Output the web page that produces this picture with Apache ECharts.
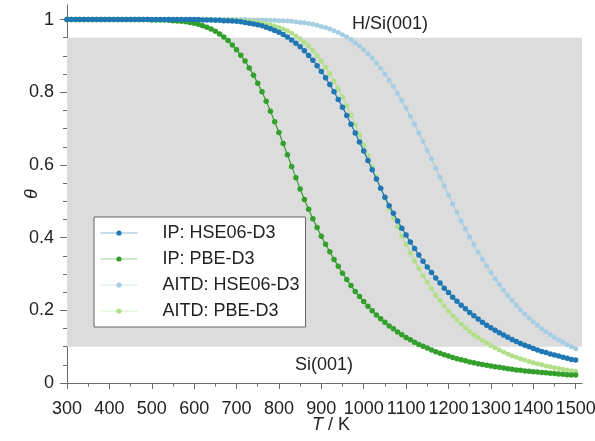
<!DOCTYPE html>
<html>
<head>
<meta charset="utf-8">
<script src="https://cdn.jsdelivr.net/npm/echarts@6/dist/echarts.min.js"></script>
<style>
  html, body { margin: 0; padding: 0; background: #ffffff; }
  #chart { width: 595px; height: 441px; }
</style>
</head>
<body>
<div id="chart"></div>
<script>
// Temperature grid (K)
const temps = [
  300, 310, 320, 330, 340, 350, 360, 370, 380, 390,
  400, 410, 420, 430, 440, 450, 460, 470, 480, 490,
  500, 510, 520, 530, 540, 550, 560, 570, 580, 590,
  600, 610, 620, 630, 640, 650, 660, 670, 680, 690,
  700, 710, 720, 730, 740, 750, 760, 770, 780, 790,
  800, 810, 820, 830, 840, 850, 860, 870, 880, 890,
  900, 910, 920, 930, 940, 950, 960, 970, 980, 990,
  1000, 1010, 1020, 1030, 1040, 1050, 1060, 1070, 1080, 1090,
  1100, 1110, 1120, 1130, 1140, 1150, 1160, 1170, 1180, 1190,
  1200, 1210, 1220, 1230, 1240, 1250, 1260, 1270, 1280, 1290,
  1300, 1310, 1320, 1330, 1340, 1350, 1360, 1370, 1380, 1390,
  1400, 1410, 1420, 1430, 1440, 1450, 1460, 1470, 1480, 1490,
  1500
];

// Hydrogen coverage theta for each temperature above
const ipHse = [
  1, 1, 1, 1, 1, 1, 1, 1, 1, 1,
  1, 1, 1, 1, 1, 1, 1, 1, 1, 1,
  1, 1, 1, 1, 1, 1, 1, 1, 1, 1,
  1, 1, 0.999, 0.999, 0.999, 0.998, 0.998, 0.997, 0.997, 0.996,
  0.995, 0.994, 0.992, 0.990, 0.988, 0.986, 0.983, 0.979, 0.975, 0.970,
  0.965, 0.959, 0.952, 0.944, 0.935, 0.925, 0.914, 0.901, 0.888, 0.873,
  0.857, 0.840, 0.821, 0.801, 0.780, 0.759, 0.736, 0.712, 0.688, 0.663,
  0.638, 0.612, 0.587, 0.561, 0.536, 0.511, 0.488, 0.467, 0.446, 0.426,
  0.407, 0.388, 0.370, 0.352, 0.335, 0.319, 0.304, 0.289, 0.275, 0.261,
  0.249, 0.236, 0.225, 0.214, 0.204, 0.194, 0.185, 0.176, 0.167, 0.159,
  0.152, 0.145, 0.138, 0.132, 0.126, 0.120, 0.114, 0.109, 0.104, 0.100,
  0.095, 0.091, 0.087, 0.084, 0.080, 0.077, 0.074, 0.071, 0.068, 0.065,
  0.063
];

const ipPbe = [
  1, 1, 1, 1, 1, 1, 1, 1, 1, 1,
  1, 1, 1, 1, 1, 1, 1, 1, 1, 1,
  0.999, 0.999, 0.999, 0.999, 0.998, 0.997, 0.996, 0.995, 0.994, 0.992,
  0.990, 0.987, 0.983, 0.979, 0.974, 0.968, 0.960, 0.952, 0.942, 0.930,
  0.917, 0.902, 0.886, 0.867, 0.847, 0.825, 0.801, 0.775, 0.748, 0.719,
  0.689, 0.659, 0.628, 0.596, 0.565, 0.534, 0.505, 0.478, 0.452, 0.428,
  0.404, 0.382, 0.361, 0.340, 0.321, 0.302, 0.285, 0.268, 0.252, 0.238,
  0.224, 0.211, 0.199, 0.187, 0.177, 0.167, 0.157, 0.149, 0.140, 0.133,
  0.125, 0.119, 0.112, 0.106, 0.101, 0.096, 0.091, 0.086, 0.082, 0.078,
  0.074, 0.070, 0.067, 0.064, 0.061, 0.058, 0.056, 0.053, 0.051, 0.049,
  0.047, 0.045, 0.043, 0.041, 0.039, 0.038, 0.036, 0.035, 0.033, 0.032,
  0.031, 0.030, 0.029, 0.028, 0.027, 0.026, 0.025, 0.024, 0.023, 0.022,
  0.022
];

const aitdHse = [
  1, 1, 1, 1, 1, 1, 1, 1, 1, 1,
  1, 1, 1, 1, 1, 1, 1, 1, 1, 1,
  1, 1, 1, 1, 1, 1, 1, 1, 1, 1,
  1, 1, 1, 1, 1, 1, 1, 1, 1, 1,
  1, 1, 1, 0.999, 0.999, 0.999, 0.999, 0.999, 0.998, 0.998,
  0.997, 0.997, 0.996, 0.995, 0.994, 0.992, 0.991, 0.989, 0.987, 0.984,
  0.981, 0.978, 0.974, 0.969, 0.964, 0.958, 0.952, 0.945, 0.936, 0.927,
  0.917, 0.906, 0.894, 0.880, 0.866, 0.850, 0.833, 0.816, 0.797, 0.777,
  0.756, 0.734, 0.712, 0.688, 0.665, 0.640, 0.616, 0.591, 0.566, 0.542,
  0.517, 0.493, 0.470, 0.446, 0.424, 0.402, 0.381, 0.360, 0.341, 0.322,
  0.304, 0.287, 0.271, 0.255, 0.241, 0.227, 0.214, 0.201, 0.190, 0.179,
  0.168, 0.159, 0.149, 0.141, 0.133, 0.125, 0.118, 0.112, 0.105, 0.100,
  0.094
];

const aitdPbe = [
  1, 1, 1, 1, 1, 1, 1, 1, 1, 1,
  1, 1, 1, 1, 1, 1, 1, 1, 1, 1,
  1, 1, 1, 1, 1, 1, 1, 1, 1, 1,
  1, 1, 1, 1, 1, 0.999, 0.999, 0.999, 0.999, 0.998,
  0.998, 0.997, 0.996, 0.995, 0.994, 0.992, 0.991, 0.988, 0.986, 0.982,
  0.978, 0.974, 0.969, 0.962, 0.955, 0.947, 0.937, 0.927, 0.915, 0.901,
  0.886, 0.869, 0.851, 0.831, 0.810, 0.787, 0.763, 0.737, 0.711, 0.683,
  0.655, 0.626, 0.596, 0.567, 0.537, 0.509, 0.481, 0.455, 0.429, 0.404,
  0.381, 0.358, 0.336, 0.315, 0.295, 0.277, 0.259, 0.242, 0.227, 0.212,
  0.198, 0.185, 0.174, 0.162, 0.152, 0.142, 0.133, 0.125, 0.117, 0.110,
  0.103, 0.097, 0.091, 0.085, 0.080, 0.075, 0.071, 0.067, 0.063, 0.059,
  0.056, 0.053, 0.050, 0.047, 0.045, 0.042, 0.040, 0.038, 0.036, 0.034,
  0.032
];

// Axis ticks
const xMajorTicks = [300, 400, 500, 600, 700, 800, 900, 1000, 1100, 1200, 1300, 1400, 1500];
const xMinorTicks = [350, 450, 550, 650, 750, 850, 950, 1050, 1150, 1250, 1350, 1450];
const yMajorTicks = [0, 0.2, 0.4, 0.6, 0.8, 1];
const yMinorTicks = [0.05, 0.1, 0.15, 0.25, 0.3, 0.35, 0.45, 0.5, 0.55, 0.65, 0.7, 0.75, 0.85, 0.9, 0.95];

// Shaded coverage band between the two surface regimes
const bandTheta = [0.1, 0.95];
const xRange = [300, 1515];
const yRange = [0, 1.04];

const FONT = '"Liberation Sans", Arial, Helvetica, sans-serif';
const AXIS_COLOR = '#6b6b6b';
const TEXT_COLOR = '#222222';

function pairs(ys) {
  return temps.map((t, i) => [t, ys[i]]);
}

function plain(v) {
  return String(v);
}

function curve(name, ys, color, size, z) {
  return {
    name: name,
    type: 'line',
    data: pairs(ys),
    xAxisIndex: 0,
    yAxisIndex: 0,
    symbol: 'circle',
    symbolSize: size,
    showSymbol: true,
    showAllSymbol: true,
    sampling: 'none',
    z: z,
    itemStyle: { color: color, borderWidth: 0 },
    lineStyle: { color: color, width: 1.2 },
    emphasis: { disabled: true },
    animation: false
  };
}

const lightBlue = curve('AITD: HSE06-D3', aitdHse, '#a6cee3', 5, 3);
lightBlue.markArea = {
  silent: true,
  itemStyle: { color: '#dcdcdc' },
  data: [[
    { xAxis: xRange[0], yAxis: bandTheta[0] },
    { xAxis: xRange[1], yAxis: bandTheta[1] }
  ]]
};

const series = [
  lightBlue,
  curve('AITD: PBE-D3', aitdPbe, '#b2df8a', 5, 4),
  curve('IP: PBE-D3', ipPbe, '#33a02c', 5.5, 5),
  curve('IP: HSE06-D3', ipHse, '#1f78b4', 5.5, 6)
];

const chart = echarts.init(document.getElementById('chart'), null, { renderer: 'canvas' });

chart.setOption({
  animation: false,
  backgroundColor: '#ffffff',
  textStyle: { fontFamily: FONT },
  grid: { left: 67, right: 13, top: 5, bottom: 58, containLabel: false, outerBoundsMode: 'none' },
  legend: {
    data: ['IP: HSE06-D3', 'IP: PBE-D3', 'AITD: HSE06-D3', 'AITD: PBE-D3'],
    orient: 'vertical',
    left: 94,
    top: 217,
    padding: [6, 6, 6, 6],
    itemWidth: 37,
    itemHeight: 6.5,
    itemGap: 6,
    backgroundColor: '#ffffff',
    borderColor: '#666666',
    borderWidth: 1,
    borderRadius: 0,
    selectedMode: false,
    lineStyle: { width: 1, opacity: 0.5 },
    textStyle: {
      fontFamily: FONT,
      fontSize: 18,
      color: TEXT_COLOR,
      lineHeight: 20,
      padding: [0, 0, 0, 20]
    }
  },
  xAxis: [
    {
      type: 'value',
      min: xRange[0],
      max: xRange[1],
      interval: 100,
      name: '{i|T} / K',
      nameLocation: 'middle',
      nameGap: 33,
      nameMoveOverlap: false,
      nameTextStyle: {
        fontFamily: FONT,
        fontSize: 18,
        color: TEXT_COLOR,
        padding: [0, 0, 0, 13],
        rich: { i: { fontStyle: 'italic', fontFamily: FONT, fontSize: 18, color: TEXT_COLOR } }
      },
      axisLine: { show: true, lineStyle: { color: AXIS_COLOR, width: 1 } },
      axisTick: { show: true, inside: false, length: 6, customValues: xMajorTicks, lineStyle: { color: AXIS_COLOR } },
      axisLabel: {
        show: true, customValues: xMajorTicks, margin: 17, fontSize: 18, color: TEXT_COLOR, fontFamily: FONT,
        formatter: plain, hideOverlap: false, showMaxLabel: true
      },
      splitLine: { show: false }
    },
    {
      type: 'value',
      min: xRange[0],
      max: xRange[1],
      position: 'bottom',
      offset: 0,
      axisLine: { show: false },
      axisTick: { show: true, inside: false, length: 3.5, customValues: xMinorTicks, lineStyle: { color: AXIS_COLOR } },
      axisLabel: { show: false },
      splitLine: { show: false }
    }
  ],
  yAxis: [
    {
      type: 'value',
      min: yRange[0],
      max: yRange[1],
      interval: 0.2,
      name: 'θ',
      nameLocation: 'middle',
      nameRotate: 90,
      nameGap: 26,
      nameMoveOverlap: false,
      nameTextStyle: { fontFamily: FONT, fontSize: 18, fontStyle: 'italic', color: TEXT_COLOR },
      axisLine: { show: true, lineStyle: { color: AXIS_COLOR, width: 1 } },
      axisTick: { show: true, inside: false, length: 7, customValues: yMajorTicks, lineStyle: { color: AXIS_COLOR } },
      axisLabel: {
        show: true, customValues: yMajorTicks, margin: 13, fontSize: 18, color: TEXT_COLOR, fontFamily: FONT,
        formatter: plain, hideOverlap: false
      },
      splitLine: { show: false }
    },
    {
      type: 'value',
      min: yRange[0],
      max: yRange[1],
      position: 'left',
      offset: 0,
      axisLine: { show: false },
      axisTick: { show: true, inside: false, length: 4, customValues: yMinorTicks, lineStyle: { color: AXIS_COLOR } },
      axisLabel: { show: false },
      splitLine: { show: false }
    }
  ],
  graphic: [
    {
      type: 'text',
      left: 352,
      top: 15,
      z: 10,
      style: { text: 'H/Si(001)', font: '18px ' + FONT, fill: TEXT_COLOR }
    },
    {
      type: 'text',
      left: 295,
      top: 356,
      z: 10,
      style: { text: 'Si(001)', font: '18px ' + FONT, fill: TEXT_COLOR }
    }
  ],
  series: series
});
</script>
</body>
</html>
